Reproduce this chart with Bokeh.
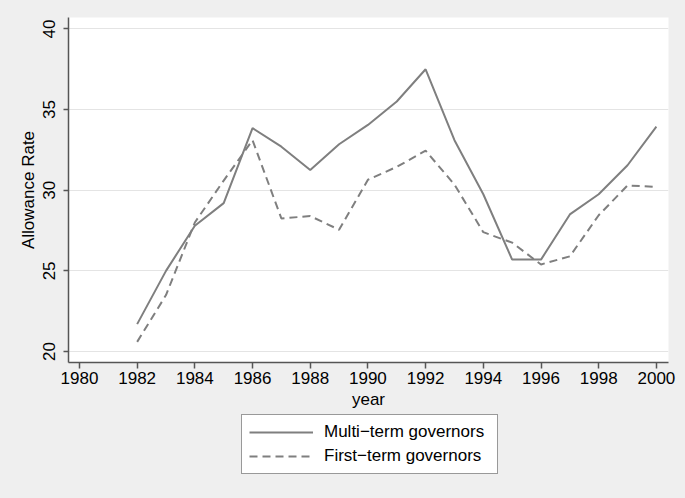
from bokeh.plotting import figure
from bokeh.models import Legend, LegendItem, FixedTicker, Range1d
from bokeh.layouts import column
from bokeh.embed import file_html
from bokeh.resources import INLINE

years = list(range(1982, 2001))
multi_term = [21.7, 25.0, 27.8, 29.2, 33.85, 32.7, 31.25, 32.85, 34.05, 35.5,
              37.5, 33.1, 29.75, 25.7, 25.7, 28.5, 29.75, 31.55, 33.95]
first_term = [20.6, 23.5, 28.0, 30.6, 33.1, 28.25, 28.4, 27.55, 30.65, 31.45,
              32.45, 30.35, 27.4, 26.75, 25.4, 25.9, 28.45, 30.3, 30.2]
x_ticks = list(range(1980, 2001, 2))
y_ticks = [20, 25, 30, 35, 40]
series_names = ["Multi\u2212term governors", "First\u2212term governors"]

BG = "#efefef"
LINE = "#7f7f7f"
DASH = "8 5"
FONT = "Liberation Sans"

p = figure(width=685, height=412, output_backend="svg", toolbar_location=None,
           x_range=Range1d(1979.62, 2000.42), y_range=Range1d(19.32, 40.71),
           min_border_left=68, min_border_right=17, min_border_top=17,
           min_border_bottom=50)
p.background_fill_color = "white"
p.border_fill_color = BG
p.outline_line_color = None

p.line(years, multi_term, line_color=LINE, line_width=2)
p.line(years, first_term, line_color=LINE, line_width=2, line_dash=DASH)

p.xaxis.ticker = FixedTicker(ticks=x_ticks)
p.yaxis.ticker = FixedTicker(ticks=y_ticks)
p.xgrid.grid_line_color = None
p.ygrid.grid_line_color = "#e4e4e4"
p.ygrid.grid_line_width = 1

for ax in (p.xaxis[0], p.yaxis[0]):
    ax.axis_line_color = "#555555"
    ax.axis_line_width = 1.5
    ax.major_tick_line_color = "#555555"
    ax.major_tick_line_width = 1.5
    ax.major_tick_in = 0
    ax.minor_tick_line_color = None
    ax.major_label_text_font = FONT
    ax.major_label_text_font_size = "17px"
    ax.major_label_text_color = "black"
    ax.axis_label_text_font = FONT
    ax.axis_label_text_font_size = "17px"
    ax.axis_label_text_font_style = "normal"
    ax.axis_label_text_color = "black"

p.xaxis.major_tick_out = 6
p.xaxis.major_label_standoff = 3
p.xaxis.axis_label = "year"
p.xaxis.axis_label_standoff = 3

p.yaxis.major_tick_out = 5
p.yaxis.major_label_orientation = "vertical"
p.yaxis.major_label_standoff = 8
p.yaxis.axis_label = "Allowance Rate"
p.yaxis.axis_label_standoff = 3

# legend panel below the plot (its lines lie outside its ranges, so only
# the legend glyphs show)
q = figure(width=685, height=86, output_backend="svg", toolbar_location=None,
           x_range=Range1d(0, 1), y_range=Range1d(0, 1),
           x_axis_type=None, y_axis_type=None,
           min_border_left=0, min_border_right=0, min_border_top=0,
           min_border_bottom=0)
q.background_fill_color = BG
q.border_fill_color = BG
q.outline_line_color = None
q.xgrid.visible = False
q.ygrid.visible = False
g1 = q.line(years, multi_term, line_color=LINE, line_width=2)
g2 = q.line(years, first_term, line_color=LINE, line_width=2, line_dash=DASH)

legend = Legend(items=[LegendItem(label=series_names[0], renderers=[g1]),
                       LegendItem(label=series_names[1], renderers=[g2])],
                location=(173, 24), orientation="vertical")
legend.background_fill_color = "white"
legend.background_fill_alpha = 1
legend.border_line_color = "#333333"
legend.border_line_width = 1
legend.label_text_font = FONT
legend.label_text_font_size = "17px"
legend.label_text_color = "black"
legend.glyph_width = 64
legend.glyph_height = 20
legend.label_height = 20
legend.label_width = 166
legend.label_standoff = 11
legend.spacing = 4
legend.padding = 7
legend.margin = 0
q.add_layout(legend, "center")

layout = column(p, q, spacing=0)

template = """{% block postamble %}<style>body{background:#efefef;}</style>{% endblock %}"""
open("out.html", "w").write(file_html(layout, INLINE, template=template))
